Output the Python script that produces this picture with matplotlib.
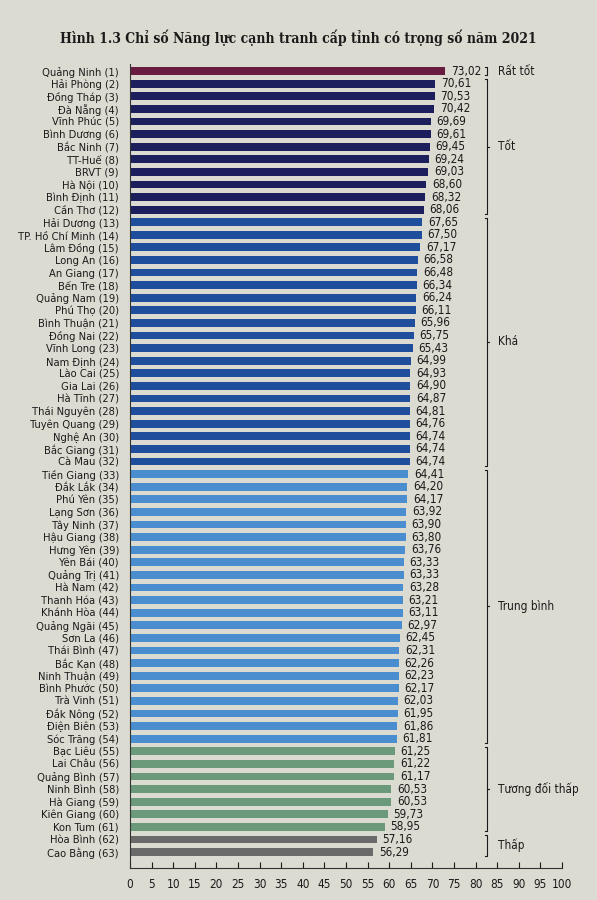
import numpy as np
import matplotlib.pyplot as plt

# Dữ liệu PCI 2021 có trọng số
provinces = [
    "Quảng Ninh", "Hải Phòng", "Đồng Tháp", "Đà Nẵng", "Vĩnh Phúc", "Bình Dương",
    "Bắc Ninh", "TT-Huế", "BRVT", "Hà Nội", "Bình Định", "Cần Thơ",
    "Hải Dương", "TP. Hồ Chí Minh", "Lâm Đồng", "Long An", "An Giang", "Bến Tre",
    "Quảng Nam", "Phú Thọ", "Bình Thuận", "Đồng Nai", "Vĩnh Long", "Nam Định",
    "Lào Cai", "Gia Lai", "Hà Tĩnh", "Thái Nguyên", "Tuyên Quang", "Nghệ An",
    "Bắc Giang", "Cà Mau", "Tiền Giang", "Đắk Lắk", "Phú Yên", "Lạng Sơn",
    "Tây Ninh", "Hậu Giang", "Hưng Yên", "Yên Bái", "Quảng Trị", "Hà Nam",
    "Thanh Hóa", "Khánh Hòa", "Quảng Ngãi", "Sơn La", "Thái Bình", "Bắc Kạn",
    "Ninh Thuận", "Bình Phước", "Trà Vinh", "Đắk Nông", "Điện Biên", "Sóc Trăng",
    "Bạc Liêu", "Lai Châu", "Quảng Bình", "Ninh Bình", "Hà Giang", "Kiên Giang",
    "Kon Tum", "Hòa Bình", "Cao Bằng",
]
scores = [
    73.02, 70.61, 70.53, 70.42, 69.69, 69.61, 69.45, 69.24, 69.03, 68.60, 68.32, 68.06,
    67.65, 67.50, 67.17, 66.58, 66.48, 66.34, 66.24, 66.11, 65.96, 65.75, 65.43, 64.99,
    64.93, 64.90, 64.87, 64.81, 64.76, 64.74, 64.74, 64.74, 64.41, 64.20, 64.17, 63.92,
    63.90, 63.80, 63.76, 63.33, 63.33, 63.28, 63.21, 63.11, 62.97, 62.45, 62.31, 62.26,
    62.23, 62.17, 62.03, 61.95, 61.86, 61.81, 61.25, 61.22, 61.17, 60.53, 60.53, 59.73,
    58.95, 57.16, 56.29,
]
group_names = ["Rất tốt", "Tốt", "Khá", "Trung bình", "Tương đối thấp", "Thấp"]
group_sizes = [1, 11, 20, 22, 7, 2]
group_colors = ["#6a1c40", "#1d1e5c", "#1f4e9c", "#4a8ed0", "#6b9a7a", "#6a6a6a"]

bg = "#dcdbd1"
txt = "#1a1a1a"
plt.rcParams['font.family'] = ['DejaVu Sans']
plt.rcParams['font.stretch'] = 'condensed'

fig = plt.figure(figsize=(5.97, 9.0), dpi=100, facecolor=bg)
ax = fig.add_axes([130 / 597, 32 / 900, 432 / 597, 804 / 900])
ax.set_facecolor(bg)

y = np.arange(len(provinces))
colors = []
for c, n in zip(group_colors, group_sizes):
    colors += [c] * n

ax.barh(y, scores, height=0.62, color=colors)
for yi, v in zip(y, scores):
    ax.text(v + 1.3, yi, f"{v:.2f}".replace(".", ","), va="center", ha="left",
            fontsize=8.5, color=txt)

ax.set_yticks(y)
ax.set_yticklabels([f"{p} ({i + 1})" for i, p in enumerate(provinces)], fontsize=8, color=txt)
ax.tick_params(axis="y", length=0, pad=8)
ax.set_ylim(63.27, -0.56)

ax.set_xlim(0, 100)
ax.set_xticks(np.arange(0, 101, 5))
ax.tick_params(axis="x", direction="in", length=4, pad=7, labelsize=8.5, colors=txt)
for s in ["top", "right"]:
    ax.spines[s].set_visible(False)
ax.spines["left"].set_color("#333333")
ax.spines["bottom"].set_color("#333333")
ax.spines["left"].set_linewidth(0.8)
ax.spines["bottom"].set_linewidth(0.8)

# ngoặc nhóm bên phải
bx = 82.7
start = 0
for name, n in zip(group_names, group_sizes):
    top, bot = start - 0.35, start + n - 1 + 0.35
    mid = (top + bot) / 2
    ax.plot([bx - 0.6, bx, bx, bx - 0.6], [top, top, bot, bot], color=txt, lw=0.8,
            clip_on=False)
    if n > 2:
        ax.plot([bx, bx + 0.5], [mid, mid], color=txt, lw=0.8, clip_on=False)
    ax.text(bx + 2.6, mid, name, va="center", ha="left", fontsize=8.5, color=txt)
    start += n

fig.text(0.5, 1 - 38 / 900, "Hình 1.3 Chỉ số Năng lực cạnh tranh cấp tỉnh có trọng số năm 2021",
         ha="center", va="center", fontsize=10, fontweight="bold", color=txt,
         family=['DejaVu Serif'], fontstretch='condensed')

fig.savefig("out.png", dpi=100, facecolor=bg)
